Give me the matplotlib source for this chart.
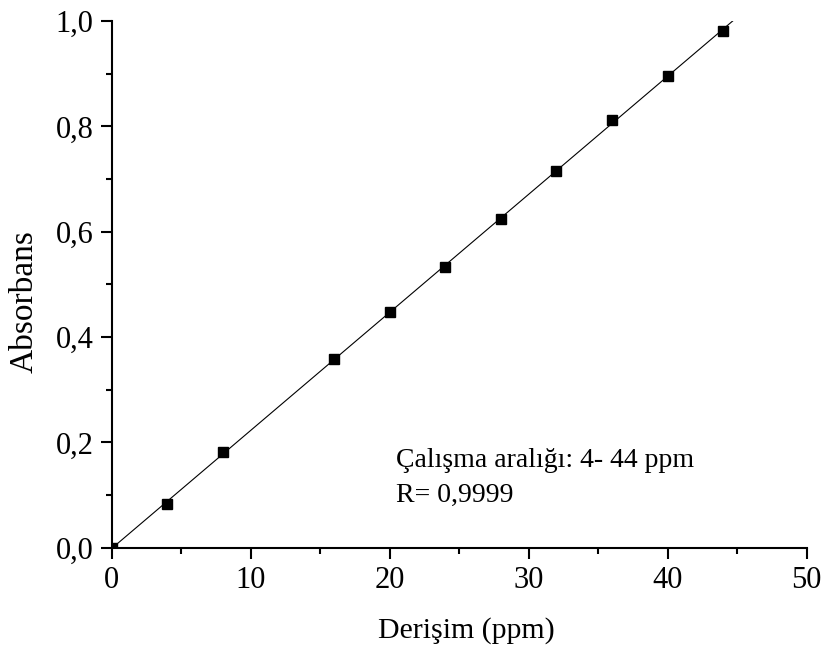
import numpy as np
import matplotlib.pyplot as plt
from matplotlib.ticker import MultipleLocator, FuncFormatter

# calibration data
derisim = [0, 4, 8, 16, 20, 24, 28, 32, 36, 40, 44]
absorbans = [0.0, 0.083, 0.182, 0.358, 0.4475, 0.533, 0.624, 0.716, 0.8125, 0.8955, 0.981]
info_lines = ["Çalışma aralığı: 4- 44 ppm", "R= 0,9999"]

plt.rcParams['font.family'] = ['Liberation Serif', 'DejaVu Serif']
plt.rcParams['font.size'] = 20

fig = plt.figure(figsize=(8.27, 6.46), dpi=100)
ax = fig.add_axes([0.1351, 0.1522, 0.8403, 0.8153])

# linear fit through the points
k, b = np.polyfit(derisim, absorbans, 1)
xf = np.array([0, 50])
ax.plot(xf, k * xf + b, color='black', linewidth=0.8)
ax.plot(derisim, absorbans, 's', color='black', markersize=7.5, clip_on=True)

ax.set_xlim(0, 50)
ax.set_ylim(0, 1.0)
ax.xaxis.set_major_locator(MultipleLocator(10))
ax.xaxis.set_minor_locator(MultipleLocator(5))
ax.yaxis.set_major_locator(MultipleLocator(0.2))
ax.yaxis.set_minor_locator(MultipleLocator(0.1))
ax.yaxis.set_major_formatter(FuncFormatter(lambda v, p: f"{v:.1f}".replace('.', ',')))

for s in ['top', 'right']:
    ax.spines[s].set_visible(False)
for s in ['left', 'bottom']:
    ax.spines[s].set_linewidth(1.5)
ax.tick_params(which='major', direction='out', length=8, width=1.5, pad=5, labelsize=22)
ax.tick_params(which='minor', direction='out', length=4.5, width=1.5)

ax.set_xlabel("Derişim (ppm)", fontsize=21.5, labelpad=16)
ax.xaxis.set_label_coords(0.5105, -0.131)
ax.set_ylabel("Absorbans", fontsize=24)
ax.yaxis.set_label_coords(-0.104, 0.468)

ax.text(20.45, 0.154, info_lines[0], va='baseline')
ax.text(20.45, 0.087, info_lines[1], va='baseline')

fig.savefig("out.png", dpi=100)
